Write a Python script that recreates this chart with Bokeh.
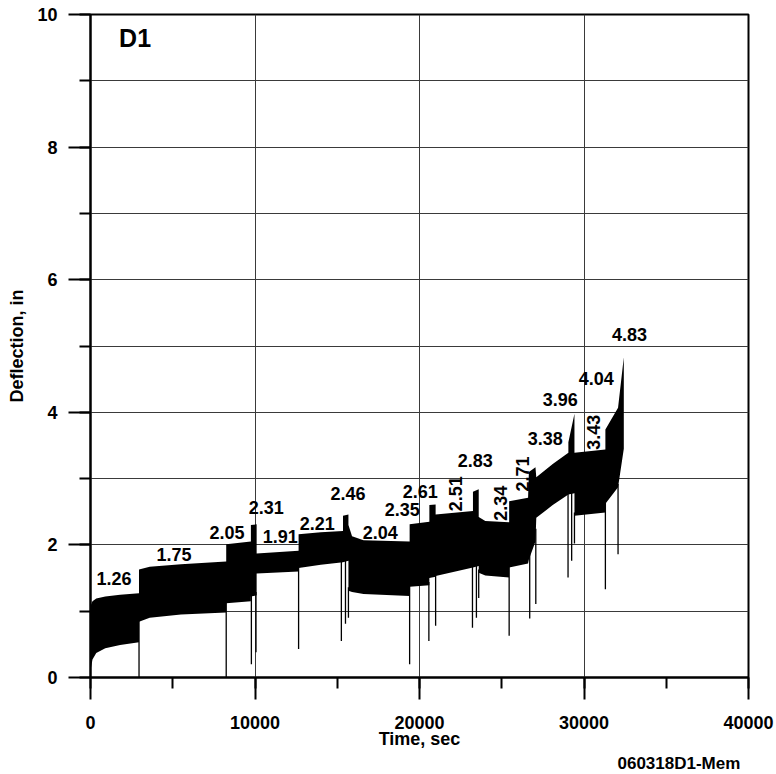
import numpy as np
from bokeh.plotting import figure
from bokeh.models import SingleIntervalTicker, Label, Title
from bokeh.embed import file_html
from bokeh.resources import INLINE

FONT = "Liberation Sans"

# Envelope of the dense oscillating deflection trace (time, upper, lower)
band_t = [0, 120, 350, 900, 1800, 2950, 2950, 3600, 5500, 8250, 8250, 9750, 9750, 10100,
          10100, 12650, 12650, 14000, 15350, 15350, 15680, 15680, 15900, 16600, 19400,
          19400, 20600, 20600, 20980, 20980, 23250, 23250, 23600, 23600, 24000, 25450,
          25450, 26600, 26650, 27050, 27100, 28100, 29050, 29050, 29420, 29420, 31300,
          31300, 32070, 32420]
band_hi = [1.08, 1.15, 1.19, 1.22, 1.25, 1.27, 1.63, 1.67, 1.71, 1.75, 2.01, 2.05, 2.30, 2.31,
           1.87, 1.91, 2.16, 2.19, 2.21, 2.44, 2.46, 2.30, 2.13, 2.07, 2.05,
           2.31, 2.35, 2.60, 2.61, 2.46, 2.51, 2.80, 2.84, 2.42, 2.36, 2.34,
           2.66, 2.71, 3.10, 3.17, 3.02, 3.22, 3.39, 3.55, 3.98, 3.39, 3.44,
           3.74, 4.07, 4.83]
band_lo = [0.10, 0.27, 0.37, 0.44, 0.49, 0.53, 0.84, 0.90, 0.95, 0.98, 1.12, 1.15, 1.22, 1.24,
           1.57, 1.60, 1.65, 1.70, 1.74, 1.74, 1.76, 1.31, 1.29, 1.26, 1.23,
           1.37, 1.39, 1.50, 1.52, 1.53, 1.66, 1.66, 1.68, 1.58, 1.54, 1.51,
           1.66, 1.72, 1.78, 2.05, 2.41, 2.60, 2.76, 2.76, 2.78, 2.44, 2.49,
           2.62, 2.87, 3.45]

# Downward spikes (time, minimum deflection)
spike_t = [2950, 8250, 9780, 10060, 12650, 15250, 15500, 15680, 19400, 20570, 20980,
           23220, 23460, 23600, 25450, 26700, 27070, 29030, 29250, 29420, 31300, 32070]
spike_lo = [0.0, 0.0, 0.20, 0.38, 0.43, 0.55, 0.81, 0.90, 0.20, 0.55, 0.78,
            0.75, 0.90, 1.20, 0.63, 0.89, 1.11, 1.51, 1.76, 2.02, 1.33, 1.86]

# Peak annotations
peak_text = ["1.26", "1.75", "2.05", "2.31", "1.91", "2.21", "2.46", "2.04", "2.35", "2.61",
             "2.51", "2.83", "2.34", "2.71", "3.38", "3.96", "4.04", "3.43", "4.83"]
peak_x = [1430, 5080, 8300, 10680, 11530, 13780, 15660, 17610, 18950, 20040,
          22170, 23390, 24910, 26250, 27650, 28560, 30750, 30570, 32760]
peak_y = [1.50, 1.86, 2.19, 2.56, 2.13, 2.33, 2.77, 2.18, 2.54, 2.81,
          2.77, 3.27, 2.63, 3.07, 3.61, 4.19, 4.51, 3.70, 5.18]
peak_rot = [0, 0, 0, 0, 0, 0, 0, 0, 0, 0, 1, 0, 1, 1, 0, 0, 0, 1, 0]

p = figure(width=776, height=774, x_range=(0, 40000), y_range=(0, 10),
           output_backend="svg", toolbar_location=None,
           min_border_left=90, min_border_right=28, min_border_top=14, min_border_bottom=97,
           background_fill_color="white", border_fill_color="white")

p.outline_line_color = "black"
p.outline_line_width = 2

p.xgrid.ticker = SingleIntervalTicker(interval=10000)
p.ygrid.ticker = SingleIntervalTicker(interval=1)
for g in (p.xgrid, p.ygrid):
    g.grid_line_color = "#3a3a3a"
    g.grid_line_width = 1

p.xaxis.ticker = SingleIntervalTicker(interval=10000, num_minor_ticks=2)
p.yaxis.ticker = SingleIntervalTicker(interval=2, num_minor_ticks=2)
for ax in (p.xaxis[0], p.yaxis[0]):
    ax.axis_line_width = 2
    ax.axis_line_color = "black"
    ax.major_tick_out = 22
    ax.major_tick_in = 0
    ax.minor_tick_out = 11
    ax.minor_tick_in = 0
    ax.major_tick_line_width = 2
    ax.minor_tick_line_width = 2
    ax.major_tick_line_color = "black"
    ax.minor_tick_line_color = "black"
    ax.major_label_text_font = FONT
    ax.major_label_text_font_style = "bold"
    ax.major_label_text_font_size = "18px"
    ax.major_label_text_color = "black"
    ax.axis_label_text_font = FONT
    ax.axis_label_text_font_style = "bold"
    ax.axis_label_text_font_size = "18px"
    ax.axis_label_text_color = "black"
p.xaxis.axis_label = "Time, sec"
p.yaxis.axis_label = "Deflection, in"
p.xaxis.major_label_standoff = 16
p.yaxis.major_label_standoff = 11
p.xaxis.axis_label_standoff = -3
p.yaxis.axis_label_standoff = 7

p.varea(x=band_t, y1=band_lo, y2=band_hi, fill_color="black", fill_alpha=1.0)
spike_hi = list(np.interp(spike_t, band_t, band_lo) + 0.05)
p.segment(x0=spike_t, y0=spike_lo, x1=spike_t, y1=spike_hi, line_color="black", line_width=1.3)

for txt, x, y, r in zip(peak_text, peak_x, peak_y, peak_rot):
    p.add_layout(Label(x=x, y=y, text=txt, text_align="center", text_baseline="middle",
                       angle=np.pi / 2 if r else 0,
                       text_font=FONT, text_font_style="bold", text_font_size="18px",
                       text_color="black"))

p.add_layout(Label(x=2710, y=9.65, text="D1", text_align="center", text_baseline="middle",
                   text_font=FONT, text_font_style="bold", text_font_size="25px",
                   text_color="black"))

note = Title(text="060318D1-Mem", align="left", text_font=FONT, text_font_style="bold",
             text_font_size="17px", text_color="black", standoff=0, offset=527)
p.add_layout(note, "below")

open("out.html", "w").write(file_html(p, INLINE))
